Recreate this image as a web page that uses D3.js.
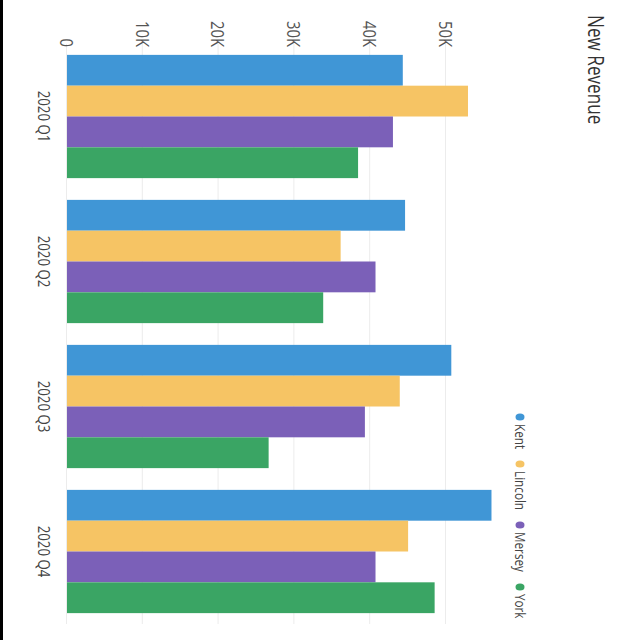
<!DOCTYPE html>
<html><head><meta charset="utf-8">
<script src="https://cdn.jsdelivr.net/npm/d3@7"></script>
<style>
html,body{margin:0;padding:0;background:#fff;}
text{font-family:"Open Sans",sans-serif;}
</style></head>
<body>
<svg id="chart" width="640" height="640"></svg>
<script>
const categories = ["2020 Q1", "2020 Q2", "2020 Q3", "2020 Q4"];
const seriesNames = ["Kent", "Lincoln", "Mersey", "York"];
const kent    = [44300, 44600, 50700, 56000];
const lincoln = [52900, 36100, 43900, 45000];
const mersey  = [43000, 40700, 39300, 40700];
const york    = [38400, 33800, 26600, 48500];
const tickValues = [0, 10000, 20000, 30000, 40000, 50000];
const tickLabels = ["0", "10K", "20K", "30K", "40K", "50K"];
const colors = ["#4096d6", "#f6c464", "#7b60b8", "#3aa564"];
const title = "New Revenue";

const seriesValues = [kent, lincoln, mersey, york];
const SX = 0.78; // horizontal text compression

const svg = d3.select("#chart");
svg.append("rect").attr("width", 640).attr("height", 640).attr("fill", "#fff");
svg.append("rect").attr("x", 0).attr("y", 0).attr("width", 3).attr("height", 640).attr("fill", "#000");

// chart drawn in its own frame, then rotated clockwise
const g = svg.append("g").attr("transform", "translate(640,0) rotate(90)");

const x0 = d3.scaleBand().domain(categories).range([44, 624]).paddingInner(0.15).paddingOuter(0.075);
const x1 = d3.scaleBand().domain(seriesNames).range([0, x0.bandwidth()]).padding(0);
const y = d3.scaleLinear().domain([0, 50000]).range([573, 194]);

// value axis + gridlines
const yAxis = d3.axisLeft(y).tickValues(tickValues).tickSize(-580)
  .tickFormat((d, i) => tickLabels[i]);
const ya = g.append("g").attr("transform", "translate(44,0)").call(yAxis);
ya.select(".domain").remove();
ya.selectAll(".tick line").attr("stroke", "#ececec").attr("stroke-width", 1);
ya.selectAll(".tick text")
  .attr("x", 0).attr("dy", "0.35em")
  .attr("transform", `translate(3,0) scale(${SX},1)`)
  .attr("text-anchor", "end")
  .attr("fill", "#555").attr("font-size", 19).attr("font-family", "Open Sans, sans-serif");

// bars
const groups = g.append("g").selectAll("g").data(categories).join("g")
  .attr("transform", c => `translate(${x0(c)},0)`);
groups.selectAll("rect")
  .data((c, ci) => seriesNames.map((s, si) => ({ s, si, v: seriesValues[si][ci] })))
  .join("rect")
  .attr("x", d => x1(d.s))
  .attr("width", x1.bandwidth())
  .attr("y", d => y(d.v))
  .attr("height", d => y(0) - y(d.v))
  .attr("fill", d => colors[d.si]);

// category axis
const xAxis = d3.axisBottom(x0).tickSize(0);
const xa = g.append("g").attr("transform", `translate(0,${y(0)})`).call(xAxis);
xa.select(".domain").remove();
xa.selectAll(".tick text")
  .attr("y", 0).attr("dy", 0)
  .attr("transform", `translate(0,29) scale(${SX},1)`)
  .attr("fill", "#444").attr("font-size", 17).attr("font-family", "Open Sans, sans-serif");

// title
g.append("text").attr("transform", `translate(15,52) scale(${SX},1)`)
  .attr("font-size", 22).attr("fill", "#333").text(title);

// legend (laid out by measured text width)
const leg = g.append("g").attr("transform", "translate(413,120)");
let lx = 0;
seriesNames.forEach((s, i) => {
  const item = leg.append("g").attr("transform", `translate(${lx},0)`);
  item.append("ellipse").attr("cx", 4).attr("cy", 0).attr("rx", 3.5).attr("ry", 4.5).attr("fill", colors[i]);
  const t = item.append("text").attr("transform", `translate(11,0) scale(${SX},1)`)
    .attr("dy", "0.35em").attr("font-size", 15).attr("fill", "#444").text(s);
  const w = t.node().getComputedTextLength() * SX;
  lx += 11 + w + 11;
});
</script>
</body></html>
